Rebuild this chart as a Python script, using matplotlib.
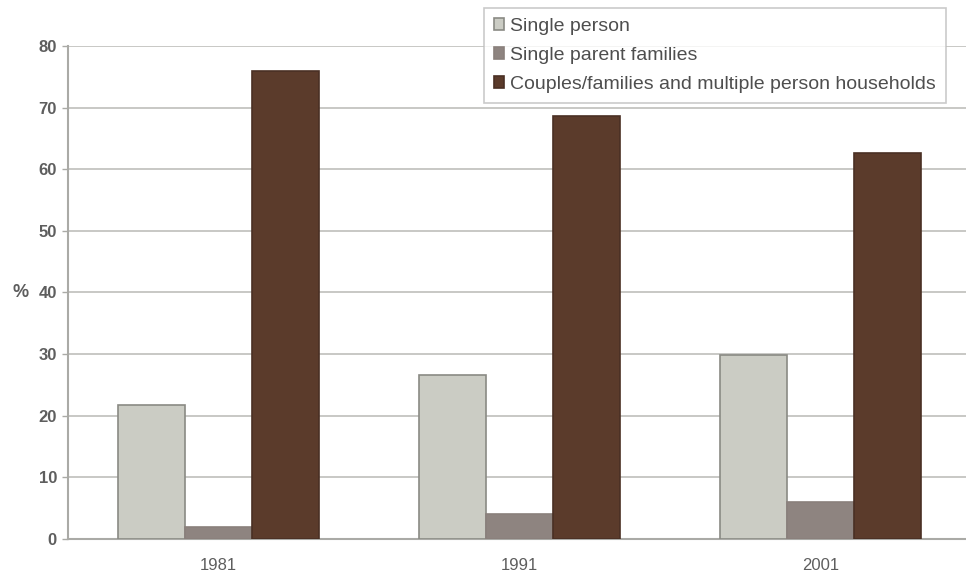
import numpy as np
import matplotlib.pyplot as plt

plt.rcParams['font.family'] = ['Liberation Sans', 'DejaVu Sans']

years = ['1981', '1991', '2001']
series_names = ['Single person', 'Single parent families',
                'Couples/families and multiple person households']
single_person = [21.7, 26.6, 29.8]
single_parent = [1.9, 4.0, 6.0]
couples = [76.0, 68.7, 62.7]

face_colors = ['#cbccc4', '#8e8480', '#5b3b2b']
edge_colors = ['#8a8a84', '#8a807c', '#4a3024']
text_color = '#5e5e5e'

fig = plt.figure(figsize=(9.66, 5.8), dpi=100)
ax = fig.add_axes([0.0704, 0.0707, 0.935, 0.85])

x = np.arange(len(years))
width = 0.223
for i, (vals, name) in enumerate(zip([single_person, single_parent, couples], series_names)):
    ax.bar(x + (i - 1) * width, vals, width, color=face_colors[i],
           edgecolor=edge_colors[i], linewidth=1.2, label=name, zorder=3)

ax.set_xlim(-0.5, 2.5)
ax.set_ylim(0, 80)
ax.set_yticks(np.arange(0, 81, 10))
ax.set_xticks(x)
ax.set_xticklabels(years)
ax.yaxis.grid(True, color='#c4c4c0', linewidth=1.3, zorder=0)
ax.set_axisbelow(True)

for side in ('top', 'right'):
    ax.spines[side].set_visible(False)
for side in ('left', 'bottom'):
    ax.spines[side].set_color('#aaaaa6')
    ax.spines[side].set_linewidth(1.5)

ax.tick_params(axis='y', colors='#aaaaa6', length=4, width=1, labelsize=12,
               labelcolor=text_color, pad=4)
ax.tick_params(axis='x', length=0, labelsize=12, labelcolor=text_color, pad=14)
for lbl in ax.get_yticklabels():
    lbl.set_fontweight('bold')

ax.set_ylabel('%', rotation=0, fontsize=13, fontweight='bold', color=text_color,
              va='center', ha='center')
ax.yaxis.set_label_coords(-0.053, 0.5)

leg = fig.legend(loc='upper right', bbox_to_anchor=(0.979, 0.986), fontsize=14,
                 frameon=True, fancybox=False, handlelength=0.55, handleheight=0.55,
                 handletextpad=0.3, labelspacing=0.62, borderpad=0.5,
                 borderaxespad=0, edgecolor='#bdbdbd')
for t in leg.get_texts():
    t.set_color('#4e4e4e')
leg.get_frame().set_linewidth(1.2)

fig.savefig('out.png', dpi=100)
